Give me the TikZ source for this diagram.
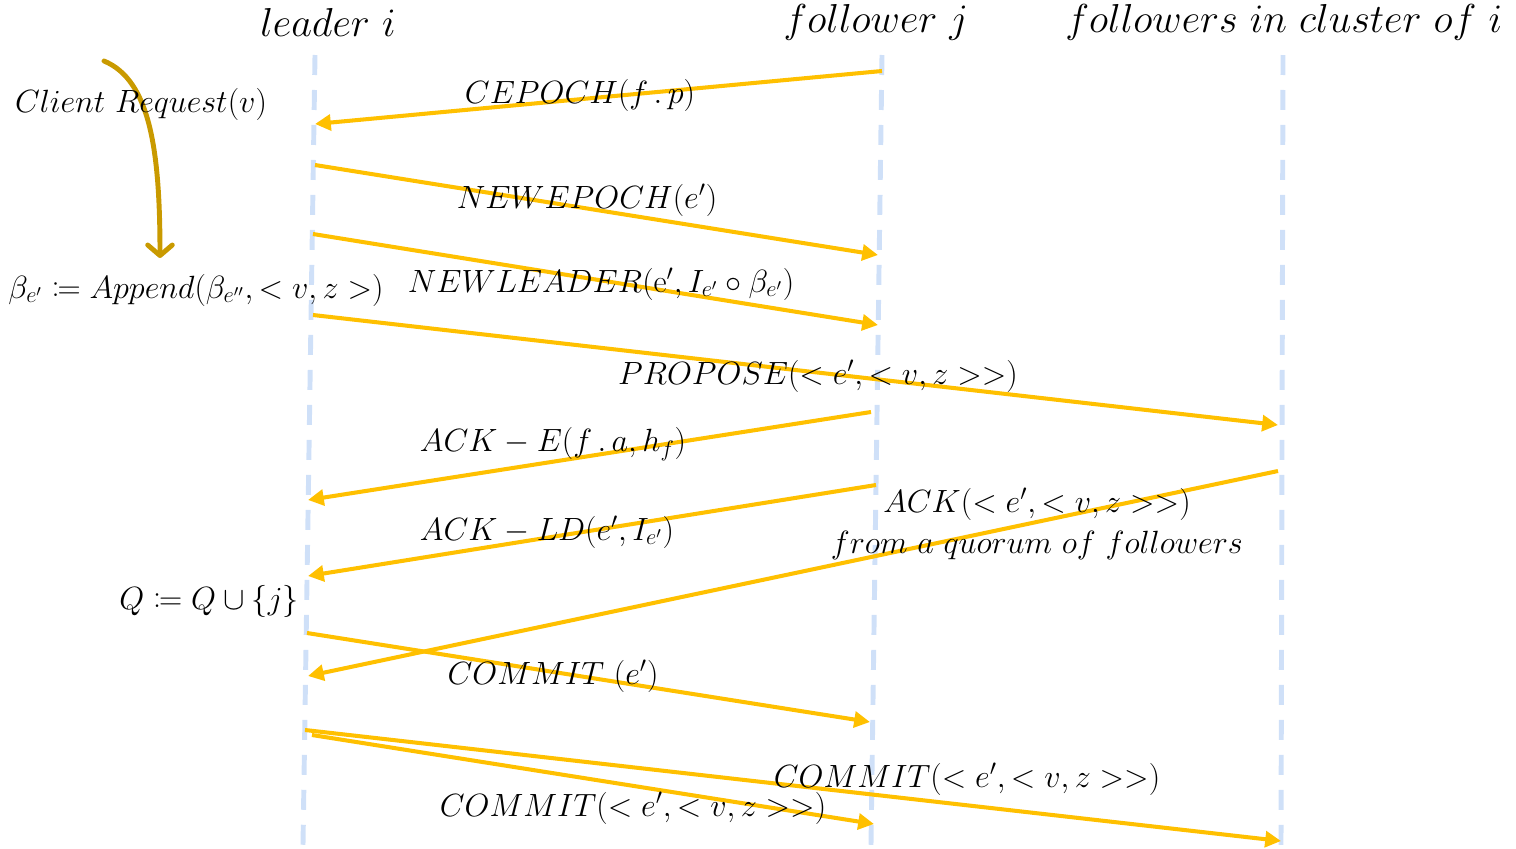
\RequirePackage{fix-cm}
\documentclass[tikz,border=0pt]{standalone}
\usepackage{xcolor}
\usepackage{mathtools}
\usepackage{tikz}
\usetikzlibrary{arrows.meta, positioning}
\definecolor{msgyellow}{HTML}{FFC000}
\definecolor{lifeblue}{HTML}{CFE0F8}
\definecolor{reqgold}{HTML}{C99A00}
\tikzset{
    msg/.style={draw=msgyellow, line width=2.3pt, -{Triangle[length=9pt, width=9pt]}},
    lifeline/.style={draw=lifeblue, line width=2.8pt, dash pattern=on 0.4cm off 0.3cm},
    head/.style={font=\fontsize{23}{27}\selectfont, inner sep=0pt},
    lbl/.style={font=\fontsize{18.3}{21}\selectfont, inner sep=0pt}
}

\begin{document}
\begin{tikzpicture}[x=0.02cm, y=-0.02cm]
    \useasboundingbox (0,0) rectangle (1516,849);
    \node (lead) [head] at (328,22) {$leader\ i$};
    \node (fol) [head] at (876,22) {$follower\ j$};
    \node (clus) [head] at (1284,22) {$followers\ in\ cluster\ of\ i$};
    \draw [lifeline] (315,55) -- (303,845);
    \draw [lifeline] (882,55) -- (871,845);
    \draw [lifeline] (1283,55) -- (1281,845);

    \coordinate (req1) at (104,61);
    \coordinate (req2) at (160,258);
    \draw [draw=reqgold, line width=2.8pt, line cap=round, -{Straight Barb[length=6pt, width=14pt, round]}]
        (req1) .. controls (150,80) and (160,150) .. (req2);
    \node (client) [lbl] at (141,104) {$Client\ Request(v)$};
    \node (append) [lbl] at (196,290) {$\beta_{e'}\coloneqq Append(\beta_{e''},<v,z>)$};
    \node (quorum) [lbl] at (209,601) {$Q\coloneqq Q\cup\{j\}$};

    \coordinate (f1) at (882,71);  \coordinate (l1) at (315,124);
    \coordinate (l2) at (315,165); \coordinate (f2) at (878,255);
    \coordinate (l3) at (313,234); \coordinate (f3) at (878,325);
    \coordinate (l4) at (313,315); \coordinate (c4) at (1278,425);
    \coordinate (f5) at (871,412); \coordinate (l5) at (308,500);
    \coordinate (f6) at (876,485); \coordinate (l6) at (308,576);
    \coordinate (c7) at (1278,471); \coordinate (l7) at (308,676);
    \coordinate (l8) at (307,633); \coordinate (f8) at (870,722);
    \coordinate (l9) at (312,735); \coordinate (f9) at (874,824);
    \coordinate (l10) at (305,730); \coordinate (c10) at (1281,841);

    \draw [msg] (f1) -- (l1);
    \draw [msg] (l2) -- (f2);
    \draw [msg] (l3) -- (f3);
    \draw [msg] (l4) -- (c4);
    \draw [msg] (f5) -- (l5);
    \draw [msg] (f6) -- (l6);
    \draw [msg] (c7) -- (l7);
    \draw [msg] (l8) -- (f8);
    \draw [msg] (l9) -- (f9);
    \draw [msg] (l10) -- (c10);

    \node (cepoch) [lbl] at (580,95) {$CEPOCH(f\,.\,p)$};
    \node (newepoch) [lbl] at (587,200) {$NEWEPOCH(e')$};
    \node (newleader) [lbl] at (601,284) {$NEWLEADER(\mathrm{e}',I_{e'}\circ\beta_{e'})$};
    \node (propose) [lbl] at (818,376) {$PROPOSE(<e',<v,z>>)$};
    \node (acke) [lbl] at (553,444) {$ACK-E(f\,.\,a,h_f)$};
    \node (ackld) [lbl] at (547,532) {$ACK-LD(e',I_{e'})$};
    \node (ackq) [lbl] at (1037,504) {$ACK(<e',<v,z>>)$};
    \node (fromq) [lbl, below=0.2cm of ackq.south, anchor=north] {$from\ a\ quorum\ of\ followers$};
    \node (commite) [lbl] at (553,676) {$COMMIT\ (e')$};
    \node (commitf) [lbl] at (633,808) {$COMMIT(<e',<v,z>>)$};
    \node (commitc) [lbl] at (967,779) {$COMMIT(<e',<v,z>>)$};
\end{tikzpicture}
\end{document}
